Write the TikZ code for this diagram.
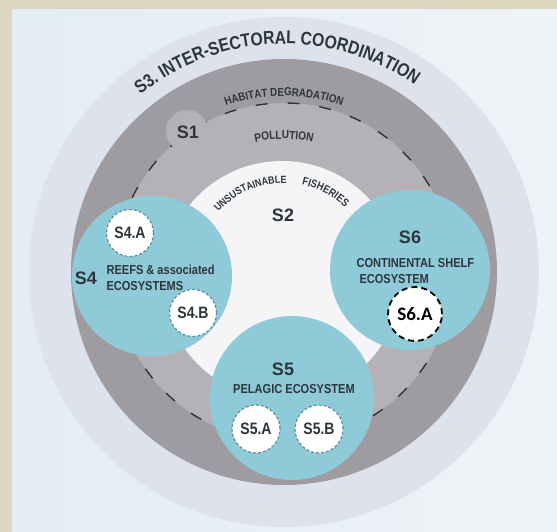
\documentclass[tikz,border=0pt]{standalone}
\usepackage{fontspec}
\setmainfont{Liberation Sans}
\newfontfamily\condf[FakeStretch=0.85]{Liberation Sans}
\newfontfamily\calib{Carlito}
\usetikzlibrary{decorations.text}
\definecolor{beige}{HTML}{DDD7C1}
\definecolor{panelL}{HTML}{E3EDF5}
\definecolor{panelR}{HTML}{EFF3F7}
\definecolor{ringS}{HTML}{DEE2ED}
\definecolor{darkring}{HTML}{9E9BA1}
\definecolor{midring}{HTML}{B4B2B7}
\definecolor{whitec}{HTML}{F5F5F7}
\definecolor{tealc}{HTML}{8FCAD8}
\definecolor{txt}{HTML}{2C363B}
\definecolor{smallb}{HTML}{5F8E9C}
\tikzset{
  disc/.style={circle, inner sep=0pt, fill=tealc, minimum size=#1},
  subc/.style={circle, inner sep=0pt, minimum size=#1, fill=white, draw=smallb,
    line width=1.2pt, dash pattern=on 3pt off 2pt},
  sublbl/.style={text=txt, font=\condf\bfseries\fontsize{16.5}{16.5}\selectfont},
  biglbl/.style={text=txt, font=\bfseries\fontsize{18}{18}\selectfont},
  midlbl/.style={text=txt, font=\condf\bfseries\fontsize{13}{16}\selectfont},
}
\begin{document}
\begin{tikzpicture}[x=1pt,y=-1pt]
\useasboundingbox (0,0) rectangle (557,532);
\fill[beige] (0,0) rectangle (557,532);
\shade[left color=panelL, right color=panelR] (12,10) rectangle (557,532);
\coordinate (C) at (284,272);
% rings
\fill[ringS] (C) circle[radius=255];
\fill[darkring] (C) circle[radius=213];
\fill[midring] (C) circle[radius=169];
\draw[black!80, line width=1.4pt, dash pattern=on 12pt off 20pt] (C) circle[radius=169];
\node[circle, inner sep=0pt, minimum size=42pt, fill=midring] (S1c) at (187,131) {};
\fill[whitec] (282,280) circle[radius=119];
% arc texts
\path[decorate, decoration={text along path, text align=center,
  text={|\condf\bfseries\fontsize{18.5}{18.5}\selectfont\color{txt}|S3. INTER-SECTORAL COORDINATION}}]
  (C) ++(204:228) arc[start angle=204, end angle=332, radius=228];
\path[decorate, decoration={text along path, text align=center,
  text={|\condf\bfseries\fontsize{11.5}{11.5}\selectfont\color{txt}|HABITAT DEGRADATION}}]
  (C) ++(230:176) arc[start angle=230, end angle=310, radius=176];
\path[decorate, decoration={text along path, text align=center,
  text={|\condf\bfseries\fontsize{11.8}{11.8}\selectfont\color{txt}|POLLUTION}}]
  (C) ++(230:133) arc[start angle=230, end angle=310, radius=133];
\path[decorate, decoration={text along path, text align=center,
  text={|\condf\bfseries\fontsize{10.5}{10.5}\selectfont\color{txt}|UNSUSTAINABLE}}]
  (C) ++(198:89) arc[start angle=198, end angle=296, radius=89];
\path[decorate, decoration={text along path, text align=center,
  text={|\condf\bfseries\fontsize{11}{11}\selectfont\color{txt}|FISHERIES}}]
  (C) ++(265:89) arc[start angle=265, end angle=330, radius=89];
% teal discs
\node[disc=160pt] (S4c) at (152,276) {};
\node[disc=160pt] (S6c) at (410,270) {};
\node[disc=164pt] (S5c) at (292,398) {};
% sub circles
\node[subc=47pt] (S4A) at (130,233) {};
\node[subc=47pt] (S4B) at (193,313) {};
\node[subc=48pt] (S5A) at (256,429) {};
\node[subc=48pt] (S5B) at (319,429) {};
\node[circle, inner sep=0pt, minimum size=54pt, fill=white, draw=black,
  line width=1.8pt, dash pattern=on 6pt off 4pt] (S6A) at (415,314) {};
% labels
\node[biglbl] (t1) at (188,132) {S1};
\node[biglbl] (t2) at (283,215) {S2};
\node[biglbl] (t4) at (86,278) {S4};
\node[biglbl] (t5) at (283,369) {S5};
\node[biglbl] (t6) at (410,237) {S6};
\node[midlbl, anchor=west, align=left] (reefs) at (103,278)
  {REEFS \& associated\\ECOSYSTEMS};
\node[midlbl, anchor=west, align=left] (cont) at (353,271.5)
  {CONTINENTAL SHELF\\\hspace*{3pt}ECOSYSTEM};
\node[midlbl] (pel) at (294,389) {PELAGIC ECOSYSTEM};
\node[sublbl] at (S4A) {S4.A};
\node[sublbl] at (S4B) {S4.B};
\node[sublbl] at (S5A) {S5.A};
\node[sublbl] at (S5B) {S5.B};
\node[text=black, font=\calib\bfseries\fontsize{19}{19}\selectfont] at (S6A) {S6.A};
\end{tikzpicture}
\end{document}
